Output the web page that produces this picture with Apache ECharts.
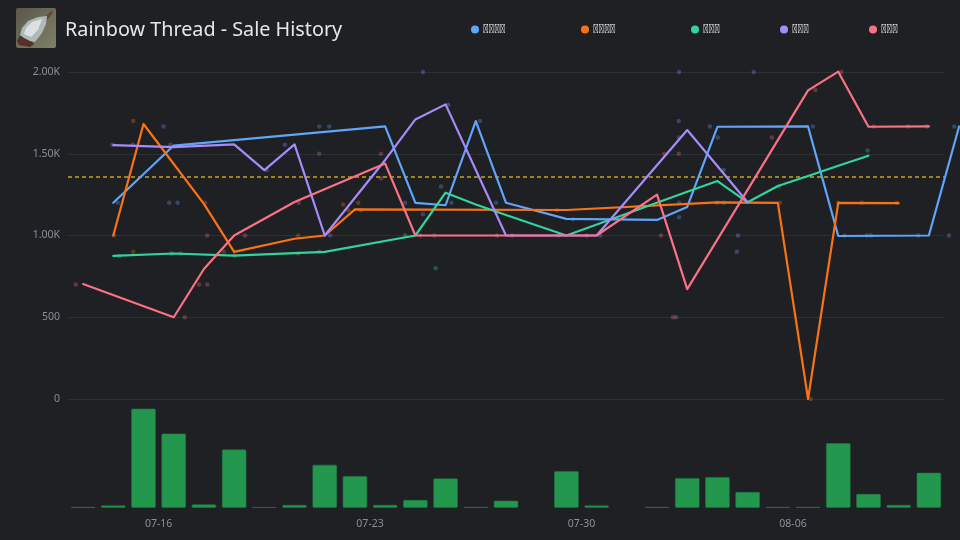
<!DOCTYPE html>
<html><head><meta charset="utf-8">
<style>html,body{margin:0;padding:0;background:#1f2024}#c{width:960px;height:540px}</style>
<script src="https://cdn.jsdelivr.net/npm/echarts@6/dist/echarts.min.js"></script>
</head><body><div id="c"></div>
<script>
const titleText = 'Rainbow Thread - Sale History';
// The reference legend shows missing-glyph boxes; private-use characters keep that look.
const seriesNames = ['\uE000\uE001\uE002\uE003','\uE004\uE005\uE006\uE007','\uE008\uE009\uE00A','\uE00B\uE00C\uE00D','\uE00E\uE00F\uE010'];
const tickDays = [3,10,17,24];
const yTicks = ['0','500','1.00K','1.50K','2.00K'];
const refLineValue = 1358;

// All x positions are days after 07-13 00:00
const volumeDays = [0,1,2,3,4,5,6,7,8,9,10,11,12,13,14,16,17,19,20,21,22,23,24,25,26,27,28];
const volumeVals = [0.7,2.3,99.3,74.3,3.3,58.3,0.5,2.7,43,31.7,2.7,7.7,29.3,0.7,7,36.7,2.3,0.7,29.7,30.7,15.7,0.7,0.7,64.7,13.7,2.7,35];

const blueDays = [1,3,10,11,12,13,14,16,19,20,21,24,25,28,29];
const blueVals = [1200,1550,1667,1200,1185,1700,1200,1102,1095,1175,1665,1667,997,1000,1667];
const orangeDays = [1,2,4,5,7,8,9,16,21,23,24,25,27];
const orangeVals = [1000,1682,1193,900,980,1000,1160,1156,1203,1200,0,1200,1198];
const greenDays = [1,3,5,8,11,12,13,14,16,20,21,22,23,24,25,26];
const greenVals = [875,890,877,900,1000,1262,1190,1125,1000,1268,1333,1203,1303,1364,1427,1488];
const purpleDays = [1,3,5,6,7,8,10,11,12,14,17,20,22];
const purpleVals = [1553,1541,1557,1400,1557,1000,1462,1710,1802,1000,1000,1645,1203];
const pinkDays = [0,3,4,5,7,10,11,17,19,20,24,25,26,28];
const pinkVals = [703,500,795,1000,1205,1440,1000,1000,1250,672,1888,2002,1665,1667];

const blueSaleDays = [1.65,3.16,3.35,3.63,8.32,8.65,8.32,11.16,12.69,13.64,14.17,16.72,20.22,20.22,20.23,20.23,21.25,21.51,24.66,25.70,26.58,28.15,29.16,29.34];
const blueSaleVals = [1200,1667,1200,1200,1667,1667,1500,1200,1200,1700,1200,1100,1700,1600,1200,1111,1667,1600,1667,1000,1000,1000,1000,1667];
const purpleSaleDays = [1.47,2.14,3.39,6.58,7.18,11.75,11.75,12.13,12.59,8.68,20.23,22.70,17.62,14.70,20.13,22.18,22.14];
const purpleSaleVals = [1555,1555,1555,1400,1555,2000,1130,1000,1800,1000,2000,2000,1000,1000,500,1000,900];
const orangeSaleDays = [1.52,2.16,2.16,4.54,5.16,7.62,7.62,9.11,9.28,9.61,9.70,16.19,21.49,23.57,24.59,25.50,26.28,27.44];
const orangeSaleVals = [1000,1700,900,1200,900,1000,890,1190,1155,1200,1155,1155,1200,1200,0,1200,1200,1200];
const greenSaleDays = [1.70,3.43,3.72,5.51,8.32,11.16,12.35,12.17,21.71,21.71,23.54,26.47,26.45,16.23];
const greenSaleVals = [875,890,890,877,900,1000,1300,800,1400,1200,1300,1520,1000,1000];
const pinkSaleDays = [0.26,3.87,4.34,4.61,4.61,5.86,7.64,10.36,10.36,11.66,14.20,17.17,19.74,20.22,19.63,20.03,23.30,24.74,25.60,26.67,27.82,28.43];
const pinkSaleVals = [700,500,700,700,1000,1000,1200,1500,1350,1000,1000,1000,1500,1500,1000,500,1600,1890,2000,1667,1667,1667];

const colors = ['#60a5fa','#f97316','#34d399','#a78bfa','#fb7185'];
const legendLefts = [471,581,691,780,869];
const base = new Date(2025,6,13).getTime();
const DAY = 86400000;
const pts = (ds,vs,shift) => ds.map((d,i)=>[d+shift,vs[i]]);
const lineSets = [[blueDays,blueVals],[orangeDays,orangeVals],[greenDays,greenVals],[purpleDays,purpleVals],[pinkDays,pinkVals]];
const saleSets = [[blueSaleDays,blueSaleVals],[orangeSaleDays,orangeSaleVals],[greenSaleDays,greenSaleVals],[purpleSaleDays,purpleSaleVals],[pinkSaleDays,pinkSaleVals]];

const series = [];
series.push({type:'line',data:[[0,refLineValue],[29,refLineValue]],showSymbol:false,z:2,silent:true,xAxisIndex:0,yAxisIndex:0,
  lineStyle:{color:'#c9a31d',type:[4,3],width:1.6}});
saleSets.forEach((s,i)=>series.push({name:seriesNames[i],type:'scatter',data:pts(s[0],s[1],0),symbolSize:4.5,clip:false,z:1,silent:true,
  itemStyle:{color:colors[i],opacity:0.3},xAxisIndex:2,yAxisIndex:2}));
lineSets.forEach((s,i)=>series.push({name:seriesNames[i],type:'line',data:pts(s[0],s[1],0.5),showSymbol:false,clip:false,z:3,silent:true,
  lineStyle:{color:colors[i],width:2.2,cap:'round',join:'round'},itemStyle:{color:colors[i]},xAxisIndex:2,yAxisIndex:2}));
series.push({type:'bar',data:pts(volumeDays,volumeVals,0.5),barWidth:24.4,xAxisIndex:1,yAxisIndex:1,silent:true,
  itemStyle:{color:'#23974e',borderColor:'#1f7a43',borderWidth:0.6,borderRadius:1}});

const chart = echarts.init(document.getElementById('c'),null,{renderer:'canvas'});
chart.setOption({
  animation:false,
  backgroundColor:'#1f2024',
  textStyle:{fontFamily:'Noto Sans'},
  title:{text:titleText,left:65,top:20.5,padding:0,textStyle:{color:'#e5e7eb',fontSize:19.8,fontWeight:400,fontFamily:'Noto Sans'}},
  legend:seriesNames.map((n,i)=>({left:legendLefts[i],top:23,padding:0,icon:'circle',itemWidth:8,itemHeight:8,itemGap:0,
    data:[{name:n,itemStyle:{color:colors[i],opacity:1}}],
    textStyle:{color:'#f3f4f6',fontSize:12.6,fontFamily:'Roboto',padding:[0,0,0,-1]}})),
  grid:[{left:68,width:876,top:72,height:327,outerBoundsMode:'none'},{left:68,width:876,top:408,height:99.7,outerBoundsMode:'none'},{left:68,width:906.2,top:72,height:327,outerBoundsMode:'none'}],
  xAxis:[
    {type:'value',gridIndex:0,min:0,max:29,show:false,splitLine:{show:false}},
    {type:'value',gridIndex:1,min:0,max:29,axisLine:{show:false},axisTick:{show:false},splitLine:{show:false},
      axisLabel:{color:'#8b8f98',fontSize:10.5,margin:11,customValues:tickDays,
        formatter:v=>echarts.time.format(base+v*DAY,'{MM}-{dd}')}},
    {type:'value',gridIndex:2,min:0,max:30,show:false,splitLine:{show:false}}
  ],
  yAxis:[
    {type:'value',gridIndex:0,min:0,max:2000,interval:500,axisLine:{show:false},axisTick:{show:false},
      splitLine:{lineStyle:{color:'rgba(255,255,255,0.07)',width:1}},
      axisLabel:{color:'#8b8f98',fontSize:10.5,margin:8,formatter:v=>yTicks[v/500]}},
    {type:'value',gridIndex:1,min:0,max:100,show:false,splitLine:{show:false}},
    {type:'value',gridIndex:2,min:0,max:2000,show:false,splitLine:{show:false}}
  ],
  series,
  graphic:[
    {type:'rect',shape:{x:16,y:8,width:40,height:40,r:2},style:{fill:{type:'linear',x:0,y:0,x2:1,y2:1,colorStops:[{offset:0,color:'#5a574a'},{offset:1,color:'#808067'}]}}},
    {type:'polygon',shape:{points:[[46,16],[50,12],[53,10],[52,14],[47,20]]},style:{fill:'#6b4335'}},
    {type:'polygon',shape:{points:[[20,35],[17,41],[19,45],[24,46],[30,47],[34,44],[28,38]]},style:{fill:'#55302a'}},
    {type:'polygon',shape:{points:[[47,16],[38,17],[28,21],[22,28],[20,35],[24,38],[30,41],[35,42],[42,33],[46,24]]},style:{fill:'#aeb9bb'}},
    {type:'polygon',shape:{points:[[42,19],[32,22],[26,28],[24,34],[31,37],[38,30]]},style:{fill:'#dde2e1'}}
  ]
});
</script></body></html>
